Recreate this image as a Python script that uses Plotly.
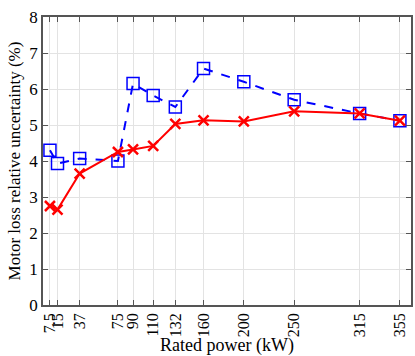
import plotly.graph_objects as go

power_kw = [7.5, 15, 37, 75, 90, 110, 132, 160, 200, 250, 315, 355]
tick_labels = ["7.5", "15", "37", "75", "90", "110", "132", "160", "200", "250", "315", "355"]
red_series = [2.75, 2.65, 3.65, 4.25, 4.32, 4.42, 5.03, 5.13, 5.10, 5.38, 5.32, 5.12]
blue_series = [4.30, 3.93, 4.07, 4.00, 6.15, 5.82, 5.50, 6.57, 6.20, 5.70, 5.32, 5.12]

FAM = "Liberation Serif"

fig = go.Figure()
fig.add_trace(go.Scatter(
    x=power_kw, y=blue_series, mode="lines+markers",
    line=dict(color="#0000FF", width=2, dash="dash"),
    marker=dict(symbol="square-open", size=12, color="#0000FF", line=dict(width=1.5)),
    showlegend=False))
fig.add_trace(go.Scatter(
    x=power_kw, y=red_series, mode="lines+markers",
    line=dict(color="#FF0000", width=2),
    marker=dict(symbol="x-thin-open", size=10, color="#FF0000", line=dict(width=2.5, color="#FF0000")),
    showlegend=False))

fig.update_layout(
    width=415, height=356,
    margin=dict(l=43, r=2, t=17, b=51),
    paper_bgcolor="white", plot_bgcolor="white",
    font=dict(size=16, family=FAM, color="black"),
    xaxis=dict(
        range=[0.6, 366], tickvals=power_kw, ticktext=tick_labels, tickangle=-90,
        showgrid=True, gridcolor="#E3E3E3", gridwidth=1,
        showline=True, linecolor="#555555", linewidth=1.5, mirror="ticks",
        ticks="inside", ticklen=5, tickcolor="#555555",
        tickfont=dict(size=16, family=FAM, color="black"),
        title=dict(text="Rated power (kW)", font=dict(size=18, family=FAM, color="black"), standoff=2),
        zeroline=False),
    yaxis=dict(
        range=[0, 8], dtick=1,
        showgrid=True, gridcolor="#E3E3E3", gridwidth=1,
        showline=True, linecolor="#555555", linewidth=1.5, mirror="ticks",
        ticks="inside", ticklen=5, tickcolor="#555555",
        tickfont=dict(size=17, family=FAM, color="black"),
        title=dict(text="Motor loss relative uncertainty (%)", font=dict(size=17, family=FAM, color="black"), standoff=4),
        zeroline=False),
)
fig.write_html("out.html")
